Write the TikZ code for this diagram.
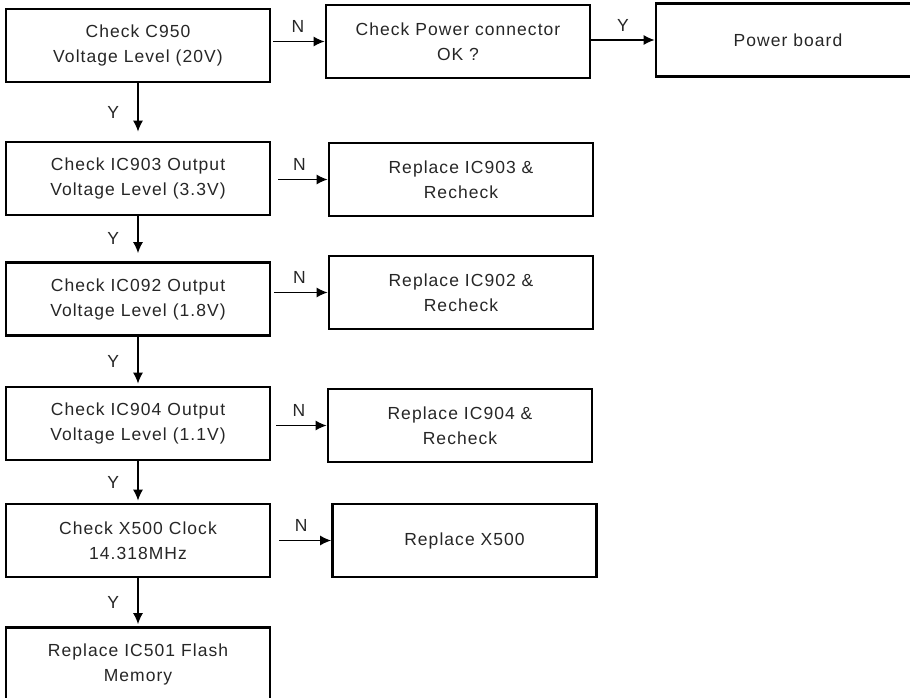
\documentclass[tikz,border=0pt]{standalone}
\usepackage{fontspec}
\setmainfont{Liberation Sans}[LetterSpace=6]
\usetikzlibrary{arrows.meta}

\begin{document}
\begin{tikzpicture}[>={Latex[length=11pt, width=10pt]}, x=1pt, y=-1pt]
	\tikzset{
		box/.style={draw, line width=2.8pt, minimum width=264pt, minimum height=73pt,
				inner sep=0pt, align=center, text=black!85,
				font=\fontsize{17.5}{25}\selectfont},
		link/.style={->, line width=1.2pt},
		tag/.style={text=black!85, font=\fontsize{17.5}{20}\selectfont}
	}
	\useasboundingbox (0,0) rectangle (910,698);
	% checks on the left
	\node[box] (c950) at (138,45.5) {Check C950\\Voltage Level (20V)};
	\node[box] (ic903) at (138,178.5) {Check IC903 Output\\Voltage Level (3.3V)};
	\node[box] (ic902) at (138,299) {Check IC092 Output\\Voltage Level (1.8V)};
	\node[box] (ic904) at (138,423.5) {Check IC904 Output\\Voltage Level (1.1V)};
	\node[box] (x500) at (138,540.5) {Check X500 Clock\\14.318MHz};
	\node[box] (ic501) at (138,664) {Replace IC501 Flash\\Memory};
	% actions on the right
	\node[box] (pwrcon) at (458,41.5) {Check Power connector\\OK ?};
	\node[box] (pwrboard) at (788,40) {Power board};
	\node[box] (rep903) at (461,179.5) {Replace IC903 \&\\Recheck};
	\node[box] (rep902) at (461,292.5) {Replace IC902 \&\\Recheck};
	\node[box] (rep904) at (460,425.5) {Replace IC904 \&\\Recheck};
	\node[box] (repx500) at (464.5,540.5) {Replace X500};

	\foreach \a/\b/\g in {c950/pwrcon/2pt, ic903/rep903/7pt, ic902/rep902/3pt,
			ic904/rep904/5pt, x500/repx500/8pt}
		{
			\draw[link, shorten <=\g] (\a.east |- \b.west) -- (\b.west)
			node[midway, above=5pt, tag] {N};
		}
	\foreach \a/\b/\g in {c950/ic903/9pt, ic903/ic902/8pt, ic902/ic904/2pt,
			ic904/x500/2pt, x500/ic501/2pt}
		{
			\draw[link, shorten >=\g] (\a.south) -- (\b.north)
			node[midway, left=15pt, tag] {Y};
		}
	\draw[link] (pwrcon.east |- pwrboard.west) -- (pwrboard.west)
	node[midway, above=5pt, tag] {Y};

\end{tikzpicture}
\end{document}
